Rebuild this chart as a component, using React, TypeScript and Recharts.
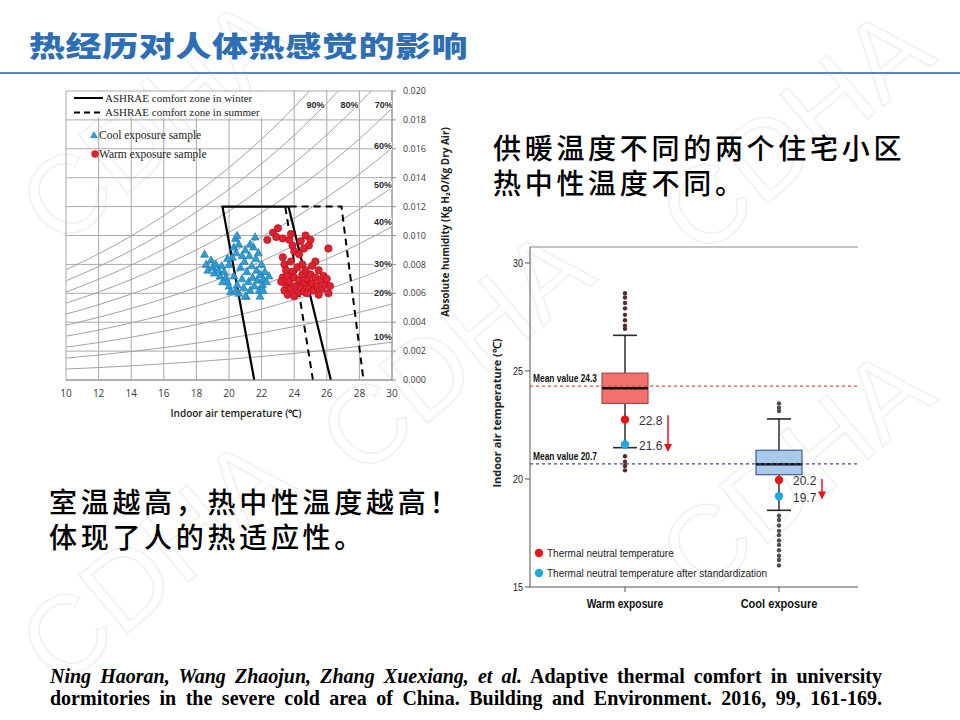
import React from "react";
import {
  ComposedChart,
  Line,
  Scatter,
  Bar,
  XAxis,
  YAxis,
  CartesianGrid,
  ReferenceLine,
} from "recharts";

// ---------- psychrometric chart (left) ----------
const T_TICKS = [10, 12, 14, 16, 18, 20, 22, 24, 26, 28, 30];
const W_TICKS = [0, 0.002, 0.004, 0.006, 0.008, 0.01, 0.012, 0.014, 0.016, 0.018, 0.02];

// relative humidity curves, humidity ratio read at each temperature of RH_T
const RH_T = [10, 12, 14, 16, 18, 20, 22, 24, 26, 28, 30];
const RH10 = [0.00076, 0.00086, 0.00098, 0.00112, 0.00127, 0.00144, 0.00163, 0.00184, 0.00207, 0.00233, 0.00262];
const RH20 = [0.00151, 0.00173, 0.00197, 0.00224, 0.00255, 0.00289, 0.00327, 0.00369, 0.00416, 0.00468, 0.00526];
const RH30 = [0.00227, 0.00259, 0.00296, 0.00337, 0.00383, 0.00434, 0.00491, 0.00555, 0.00626, 0.00705, 0.00792];
const RH40 = [0.00303, 0.00346, 0.00395, 0.0045, 0.00511, 0.0058, 0.00656, 0.00742, 0.00837, 0.00943, 0.01061];
const RH50 = [0.00379, 0.00434, 0.00495, 0.00563, 0.0064, 0.00726, 0.00823, 0.0093, 0.0105, 0.01183, 0.01331];
const RH60 = [0.00456, 0.00521, 0.00595, 0.00677, 0.0077, 0.00874, 0.0099, 0.01119, 0.01264, 0.01425, 0.01605];
const RH70 = [0.00532, 0.00609, 0.00696, 0.00794, 0.009, 0.01022, 0.01158, 0.0131, 0.0148, 0.01669, 0.0188];
const RH80 = [0.00609, 0.00697, 0.00795, 0.00906, 0.01031, 0.0117, 0.01327, 0.01502, 0.01697, 0.01915, 0.02158];
const RH90 = [0.00686, 0.00785, 0.00896, 0.01021, 0.01162, 0.0132, 0.01497, 0.01694, 0.01916, 0.02163, 0.02438];
const RH100 = [0.00763, 0.00873, 0.00997, 0.01137, 0.01294, 0.0147, 0.01667, 0.01888, 0.02136, 0.0241, 0.02718];
const RH_SERIES = [RH10, RH20, RH30, RH40, RH50, RH60, RH70, RH80, RH90, RH100];

const RH_LABELS = ["90%", "80%", "70%", "60%", "50%", "40%", "30%", "20%", "10%"];
const RH_LABEL_T = [25.3, 27.4, 29.5, 29.45, 29.45, 29.45, 29.45, 29.45, 29.45];
const RH_LABEL_W = [0.019, 0.019, 0.019, 0.0162, 0.0135, 0.0109, 0.008, 0.006, 0.003];

// ASHRAE comfort zones (open at the bottom)
const WINTER_T = [21.55, 19.6, 23.65, 26.25];
const WINTER_W = [0, 0.012, 0.012, 0];
const SUMMER_T = [25.15, 23.45, 26.9, 28.25];
const SUMMER_W = [0, 0.012, 0.012, 0];

const COOL_SAMPLES = [
  [18.5, 0.0087], [18.6, 0.008], [18.7, 0.0076], [18.9, 0.0083], [19.0, 0.0078],
  [19.1, 0.0074], [19.2, 0.008], [19.35, 0.0076], [19.45, 0.0072], [19.55, 0.0079],
  [19.7, 0.0075], [19.8, 0.0071], [19.9, 0.0068], [20.0, 0.0065], [20.1, 0.0061],
  [20.0, 0.008], [20.2, 0.0085], [20.3, 0.0092], [20.4, 0.0098], [20.5, 0.01],
  [20.45, 0.0088], [20.6, 0.0094], [20.3, 0.0072], [20.5, 0.0066], [20.6, 0.006],
  [20.7, 0.0078], [20.8, 0.007], [20.9, 0.0064], [20.95, 0.0082], [21.0, 0.009],
  [21.05, 0.0058], [21.1, 0.0075], [21.2, 0.0068], [21.25, 0.0086], [21.3, 0.0062],
  [21.4, 0.0079], [21.45, 0.0071], [21.5, 0.0092], [21.55, 0.0065], [21.6, 0.0099],
  [21.65, 0.0084], [21.7, 0.0076], [21.75, 0.0069], [21.8, 0.0088], [21.85, 0.0062],
  [21.9, 0.0073], [22.0, 0.008], [22.05, 0.0066], [22.1, 0.007], [22.2, 0.0075],
  [22.3, 0.0068], [22.45, 0.0072], [21.0, 0.0058], [20.4, 0.0062], [21.3, 0.0094],
  [20.8, 0.0086], [19.6, 0.0068], [19.9, 0.0084], [21.9, 0.0058], [22.1, 0.0062],
];

const WARM_SAMPLES = [
  [22.35, 0.0097], [22.7, 0.0102], [23.0, 0.0105], [22.9, 0.0099], [23.3, 0.0098],
  [23.7, 0.0097], [23.8, 0.0101], [23.9, 0.0093], [24.0, 0.0089], [24.4, 0.0096],
  [24.7, 0.01], [24.9, 0.0093], [25.0, 0.0097], [24.6, 0.0091], [24.3, 0.0087],
  [26.1, 0.0091], [25.3, 0.0082], [25.1, 0.0079], [23.3, 0.0085], [23.4, 0.008],
  [23.5, 0.0076], [23.3, 0.0071], [23.6, 0.0072], [23.5, 0.0066], [23.4, 0.0062],
  [23.7, 0.0068], [23.8, 0.0063], [23.9, 0.0075], [24.0, 0.0071], [24.1, 0.0065],
  [24.2, 0.006], [24.2, 0.0078], [24.3, 0.0069], [24.4, 0.0064], [24.5, 0.0073],
  [24.6, 0.0067], [24.6, 0.0061], [24.7, 0.0076], [24.8, 0.007], [24.9, 0.0064],
  [25.0, 0.0073], [25.1, 0.0067], [25.2, 0.0062], [25.3, 0.0071], [25.4, 0.0065],
  [25.5, 0.0076], [25.6, 0.0069], [25.7, 0.0063], [25.8, 0.0072], [25.9, 0.0066],
  [26.0, 0.007], [26.2, 0.0065], [26.1, 0.006], [23.6, 0.0059], [24.0, 0.0058],
  [24.8, 0.006], [25.5, 0.0059], [23.2, 0.0068], [23.8, 0.0082], [24.5, 0.008],
];

// ---------- box plot (right) ----------
const GROUPS = ["Warm exposure", "Cool exposure"];
const Q1 = [23.5, 20.2];
const MEDIAN = [24.2, 20.68];
const Q3 = [24.9, 21.33];
const WHISKER_LO = [21.45, 18.55];
const WHISKER_HI = [26.65, 22.78];
const MEAN_VALUES = [24.3, 20.7];
const NEUTRAL = [22.75, 19.95];
const NEUTRAL_TEXT = ["22.8", "20.2"];
const NEUTRAL_STD = [21.6, 19.2];
const NEUTRAL_STD_TEXT = ["21.6", "19.7"];
const ARROW_FROM = [22.95, 20.0];
const ARROW_TO = [21.25, 19.05];
const WARM_OUTLIERS = [28.6, 28.4, 28.15, 27.9, 27.6, 27.35, 27.1, 26.95, 21.05, 20.8, 20.6, 20.4];
const COOL_OUTLIERS = [23.5, 23.3, 23.15, 18.3, 18.1, 17.85, 17.6, 17.4, 17.15, 16.95, 16.7, 16.45, 16.25, 16.0];
const BOX_FILL = ["#F3716D", "#A9C9EA"];
const BOX_STROKE = ["#B0484A", "#41618A"];
const Y_TOP = 30.74;

const CJK = '"Noto Sans CJK SC", sans-serif';
const SANS = '"Liberation Sans", Arial, sans-serif';

function Triangle(props: any) {
  const { cx, cy } = props;
  return (
    <path
      d={`M${cx},${cy - 4.3} L${cx + 4},${cy + 3} L${cx - 4},${cy + 3} Z`}
      fill="#2E9DD5"
      stroke="#1C76A8"
      strokeWidth={0.6}
    />
  );
}

function RedCircle(props: any) {
  const { cx, cy } = props;
  return <circle cx={cx} cy={cy} r={3.7} fill="#E2202E" stroke="#9A1422" strokeWidth={0.6} />;
}

function RhLabel(props: any) {
  const { cx, cy, payload } = props;
  return (
    <text
      x={cx}
      y={cy}
      textAnchor="middle"
      dominantBaseline="central"
      fontSize={9}
      fontWeight={700}
      fontFamily={SANS}
      fill="#2a2a2a"
      stroke="#fff"
      strokeWidth={2}
      paintOrder="stroke"
    >
      {payload.t}
    </text>
  );
}

function PsychroChart() {
  const coolData = COOL_SAMPLES.map(([x, y]) => ({ x, y }));
  const warmData = WARM_SAMPLES.map(([x, y]) => ({ x, y }));
  const winter = WINTER_T.map((x, i) => ({ x, y: WINTER_W[i] }));
  const summer = SUMMER_T.map((x, i) => ({ x, y: SUMMER_W[i] }));
  const rhLabels = RH_LABELS.map((t, i) => ({ x: RH_LABEL_T[i], y: RH_LABEL_W[i], t }));

  return (
    <div style={{ position: "absolute", left: 0, top: 0, width: 480, height: 440 }}>
      <ComposedChart width={480} height={440} margin={{ top: 91, right: 48, bottom: 30, left: 66 }}>
        <CartesianGrid stroke="#aaaaaa" strokeWidth={1} />
        <XAxis
          type="number"
          dataKey="x"
          domain={[10, 30]}
          ticks={T_TICKS}
          allowDataOverflow
          height={30}
          tickLine={false}
          axisLine={{ stroke: "#8c8c8c" }}
          tickMargin={4}
          tick={{ fontSize: 10, fill: "#3a3a3a", fontFamily: "Open Sans, sans-serif" }}
        />
        <YAxis
          orientation="right"
          type="number"
          domain={[0, 0.02]}
          ticks={W_TICKS}
          allowDataOverflow
          width={40}
          tickSize={4}
          tickMargin={7}
          tickFormatter={(v: number) => v.toFixed(3)}
          axisLine={{ stroke: "#8c8c8c" }}
          tickLine={{ stroke: "#8c8c8c" }}
          tick={{ fontSize: 9, fill: "#3a3a3a", fontFamily: "Open Sans, sans-serif" }}
        />
        {RH_SERIES.map((arr, i) => (
          <Line
            key={i}
            data={RH_T.map((x, j) => ({ x, y: arr[j] }))}
            dataKey="y"
            type="monotone"
            stroke="#a3a3a3"
            strokeWidth={1}
            dot={false}
            activeDot={false}
            isAnimationActive={false}
          />
        ))}
        <Line data={winter} dataKey="y" type="linear" stroke="#000" strokeWidth={2.2} dot={false} activeDot={false} isAnimationActive={false} />
        <Line data={summer} dataKey="y" type="linear" stroke="#000" strokeWidth={2} strokeDasharray="7 5" dot={false} activeDot={false} isAnimationActive={false} />
        <Scatter data={coolData} dataKey="y" shape={Triangle} isAnimationActive={false} />
        <Scatter data={warmData} dataKey="y" shape={RedCircle} isAnimationActive={false} />
        <Scatter data={rhLabels} dataKey="y" shape={RhLabel} isAnimationActive={false} />
      </ComposedChart>

      <svg width={480} height={440} style={{ position: "absolute", left: 0, top: 0, pointerEvents: "none" }}>
        <rect x={67} y={92} width={199} height={25.5} fill="#fff" />
        <line x1={74} x2={103} y1={98} y2={98} stroke="#000" strokeWidth={2} />
        <text x={105} y={101.5} fontSize={11} fontFamily="Liberation Serif, serif" fill="#222">
          ASHRAE  comfort zone in winter
        </text>
        <line x1={74} x2={103} y1={112.5} y2={112.5} stroke="#000" strokeWidth={2} strokeDasharray="6 4" />
        <text x={105} y={116} fontSize={11} fontFamily="Liberation Serif, serif" fill="#222">
          ASHRAE  comfort zone in summer
        </text>
        <path d="M94,131 L98,138 L90,138 Z" fill="#2E9DD5" />
        <text x={99} y={139} fontSize={11.5} fontFamily="Liberation Serif, serif" fill="#222">
          Cool exposure sample
        </text>
        <circle cx={95} cy={154} r={3.7} fill="#E2202E" />
        <text x={99} y={158} fontSize={11.5} fontFamily="Liberation Serif, serif" fill="#222">
          Warm exposure sample
        </text>
        <text
          x={236}
          y={417}
          textAnchor="middle"
          fontSize={10}
          fontWeight={600}
          fontFamily="Open Sans, sans-serif"
          fill="#222"
        >
          Indoor air temperature (℃)
        </text>
        <text
          transform="translate(449,222) rotate(-90)"
          textAnchor="middle"
          fontSize={10}
          fontWeight={700}
          fontFamily="Open Sans, sans-serif"
          fill="#222"
        >
          Absolute humidity (Kg H₂O/Kg Dry Air)
        </text>
      </svg>
    </div>
  );
}

function BoxShape(props: any) {
  const { x, y, width, height, payload } = props;
  const [q1, q3] = payload.box;
  const ppu = height / (q3 - q1);
  const yOf = (v: number) => y + (q3 - v) * ppu;
  const cx = x + width / 2;
  const cap = 12;
  const ax = cx + 43;
  const aTop = yOf(payload.arrowFrom);
  const aBot = yOf(payload.arrowTo);
  return (
    <g>
      <line x1={cx} x2={cx} y1={yOf(payload.hi)} y2={y} stroke="#3a3a3a" strokeWidth={1.6} />
      <line x1={cx} x2={cx} y1={y + height} y2={yOf(payload.lo)} stroke="#3a3a3a" strokeWidth={1.6} />
      <line x1={cx - cap} x2={cx + cap} y1={yOf(payload.hi)} y2={yOf(payload.hi)} stroke="#2a2a2a" strokeWidth={1.6} />
      <line x1={cx - cap} x2={cx + cap} y1={yOf(payload.lo)} y2={yOf(payload.lo)} stroke="#2a2a2a" strokeWidth={1.6} />
      <rect x={x} y={y} width={width} height={height} fill={payload.fill} stroke={payload.stroke} strokeWidth={1.2} />
      <line x1={x} x2={x + width} y1={yOf(payload.median)} y2={yOf(payload.median)} stroke="#111" strokeWidth={2.6} />
      <line x1={ax} x2={ax} y1={aTop} y2={aBot - 6} stroke="#E5141B" strokeWidth={1.5} />
      <path d={`M${ax - 4},${aBot - 8} L${ax + 4},${aBot - 8} L${ax},${aBot} Z`} fill="#E5141B" />
    </g>
  );
}

function OutlierDot(props: any) {
  const { cx, cy, payload } = props;
  const c = payload.cat === GROUPS[0] ? "#5a2a2a" : "#505050";
  return <circle cx={cx} cy={cy} r={2.2} fill={c} />;
}

function NeutralDot(props: any) {
  const { cx, cy, payload } = props;
  return (
    <g>
      <circle cx={cx} cy={cy} r={4.2} fill="#E8161C" />
      <text x={cx + 14} y={cy + 1} dominantBaseline="central" fontSize={12} fontFamily={SANS} fill="#333">
        {payload.neutralText}
      </text>
    </g>
  );
}

function NeutralStdDot(props: any) {
  const { cx, cy, payload } = props;
  return (
    <g>
      <circle cx={cx} cy={cy} r={4.2} fill="#1FA9E1" />
      <text x={cx + 14} y={cy + 2} dominantBaseline="central" fontSize={12} fontFamily={SANS} fill="#333">
        {payload.stdText}
      </text>
    </g>
  );
}

function MeanLabel(props: any) {
  const { viewBox, text } = props;
  if (!viewBox) return null;
  return (
    <text
      x={viewBox.x + 3}
      y={viewBox.y - 4}
      fontSize={10.5}
      fontWeight={700}
      fontFamily={SANS}
      fill="#111"
      textLength={64}
      lengthAdjust="spacingAndGlyphs"
    >
      {text}
    </text>
  );
}

function GroupTick(props: any) {
  const { x, y, payload } = props;
  return (
    <text
      x={x}
      y={y + 12}
      textAnchor="middle"
      fontSize={13}
      fontWeight={700}
      fontFamily={SANS}
      fill="#111"
      textLength={payload.value.length * 5.9}
      lengthAdjust="spacingAndGlyphs"
    >
      {payload.value}
    </text>
  );
}

function TempTick(props: any) {
  const { x, y, payload } = props;
  return (
    <text
      x={x}
      y={y}
      textAnchor="end"
      dominantBaseline="central"
      fontSize={11}
      fontFamily={SANS}
      fill="#222"
      textLength={10}
      lengthAdjust="spacingAndGlyphs"
    >
      {payload.value}
    </text>
  );
}

function BoxPlot() {
  const data = GROUPS.map((cat, i) => ({
    cat,
    box: [Q1[i], Q3[i]],
    median: MEDIAN[i],
    lo: WHISKER_LO[i],
    hi: WHISKER_HI[i],
    neutral: NEUTRAL[i],
    neutralText: NEUTRAL_TEXT[i],
    neutralStd: NEUTRAL_STD[i],
    stdText: NEUTRAL_STD_TEXT[i],
    arrowFrom: ARROW_FROM[i],
    arrowTo: ARROW_TO[i],
    fill: BOX_FILL[i],
    stroke: BOX_STROKE[i],
  }));
  const outliers = [
    ...WARM_OUTLIERS.map((v) => ({ cat: GROUPS[0], v })),
    ...COOL_OUTLIERS.map((v) => ({ cat: GROUPS[1], v })),
  ];

  return (
    <div style={{ position: "absolute", left: 470, top: 230, width: 420, height: 400 }}>
      <ComposedChart width={420} height={400} data={data} margin={{ top: 17, right: 32, bottom: 13, left: 30 }}>
        <XAxis
          dataKey="cat"
          type="category"
          allowDuplicatedCategory={false}
          padding={{ left: 18, right: 2 }}
          height={30}
          tickSize={5}
          tickMargin={4}
          axisLine={{ stroke: "#555" }}
          tickLine={{ stroke: "#555" }}
          tick={<GroupTick />}
        />
        <YAxis
          type="number"
          domain={[15, Y_TOP]}
          ticks={[15, 20, 25, 30]}
          width={30}
          tickSize={5}
          tickMargin={2}
          axisLine={{ stroke: "#555" }}
          tickLine={{ stroke: "#555" }}
          tick={<TempTick />}
        />
        <ReferenceLine y={Y_TOP} stroke="#8a8a8a" strokeWidth={1.2} />
        <ReferenceLine
          y={MEAN_VALUES[0]}
          stroke="#E0474C"
          strokeDasharray="3 3"
          strokeWidth={1.4}
          label={<MeanLabel text={`Mean value ${MEAN_VALUES[0]}`} />}
        />
        <ReferenceLine
          y={MEAN_VALUES[1]}
          stroke="#3B4D8C"
          strokeDasharray="3 3"
          strokeWidth={1.4}
          label={<MeanLabel text={`Mean value ${MEAN_VALUES[1]}`} />}
        />
        <Bar dataKey="box" barSize={46} shape={BoxShape} isAnimationActive={false} />
        <Scatter data={outliers} dataKey="v" shape={OutlierDot} isAnimationActive={false} />
        <Scatter dataKey="neutral" shape={NeutralDot} isAnimationActive={false} />
        <Scatter dataKey="neutralStd" shape={NeutralStdDot} isAnimationActive={false} />
      </ComposedChart>

      <svg width={420} height={400} style={{ position: "absolute", left: 0, top: 0, pointerEvents: "none" }}>
        <circle cx={69} cy={323} r={4.2} fill="#E8161C" />
        <text x={77} y={327} fontSize={10} fontFamily={SANS} fill="#222">
          Thermal neutral temperature
        </text>
        <circle cx={69} cy={343} r={4.2} fill="#1FA9E1" />
        <text x={77} y={347} fontSize={10} fontFamily={SANS} fill="#222">
          Thermal neutral temperature after standardization
        </text>
        <text
          transform="translate(31,183) rotate(-90)"
          textAnchor="middle"
          fontSize={11}
          fontWeight={700}
          fontFamily="Open Sans, sans-serif"
          fill="#222"
        >
          Indoor air temperature (℃)
        </text>
      </svg>
    </div>
  );
}

function Watermark() {
  const spots = [
    [60, 250],
    [360, 480],
    [700, 260],
    [60, 690],
    [700, 600],
  ];
  return (
    <svg width={960} height={720} style={{ position: "absolute", left: 0, top: 0 }}>
      {spots.map(([x, y], i) => (
        <text
          key={i}
          transform={`translate(${x},${y}) rotate(-40)`}
          fontSize={110}
          fontFamily={SANS}
          fill="none"
          stroke="#f0f0f0"
          strokeWidth={1.6}
        >
          CDHA
        </text>
      ))}
    </svg>
  );
}

export default function App() {
  return (
    <div
      style={{
        position: "fixed",
        left: 0,
        top: 0,
        width: 960,
        height: 720,
        background: "#fff",
        overflow: "hidden",
      }}
    >
      <Watermark />

      <div
        style={{
          position: "absolute",
          left: 29,
          top: 30,
          fontFamily: CJK,
          fontWeight: 900,
          fontSize: 36,
          lineHeight: "36px",
          letterSpacing: 0.6,
          color: "#2E6EB5",
          whiteSpace: "nowrap",
          transform: "scaleY(0.8)",
          transformOrigin: "left top",
        }}
      >
        热经历对人体热感觉的影响
      </div>
      <div style={{ position: "absolute", left: 0, top: 72, width: 960, height: 2, background: "#5A86BC" }} />

      <PsychroChart />
      <BoxPlot />

      <div
        style={{
          position: "absolute",
          left: 493,
          top: 130,
          fontFamily: CJK,
          fontWeight: 500,
          fontSize: 28,
          lineHeight: "35px",
          letterSpacing: 3.7,
          color: "#000",
          whiteSpace: "nowrap",
        }}
      >
        <div>供暖温度不同的两个住宅小区</div>
        <div>热中性温度不同。</div>
      </div>

      <div
        style={{
          position: "absolute",
          left: 49,
          top: 484,
          fontFamily: CJK,
          fontWeight: 500,
          fontSize: 28,
          lineHeight: "35px",
          letterSpacing: 3.7,
          color: "#000",
          whiteSpace: "nowrap",
        }}
      >
        <div>室温越高，热中性温度越高！</div>
        <div>体现了人的热适应性。</div>
      </div>

      <div
        style={{
          position: "absolute",
          left: 50,
          top: 665,
          width: 832,
          fontFamily: '"Liberation Serif", "Times New Roman", serif',
          fontWeight: 700,
          fontSize: 20,
          lineHeight: "22px",
          color: "#000",
        }}
      >
        <div style={{ textAlign: "justify", textAlignLast: "justify" }}>
          <i>Ning Haoran, Wang Zhaojun, Zhang Xuexiang, et al.</i> Adaptive thermal comfort in university
        </div>
        <div style={{ textAlign: "justify", textAlignLast: "justify" }}>
          dormitories in the severe cold area of China. Building and Environment. 2016, 99, 161-169.
        </div>
      </div>
    </div>
  );
}
